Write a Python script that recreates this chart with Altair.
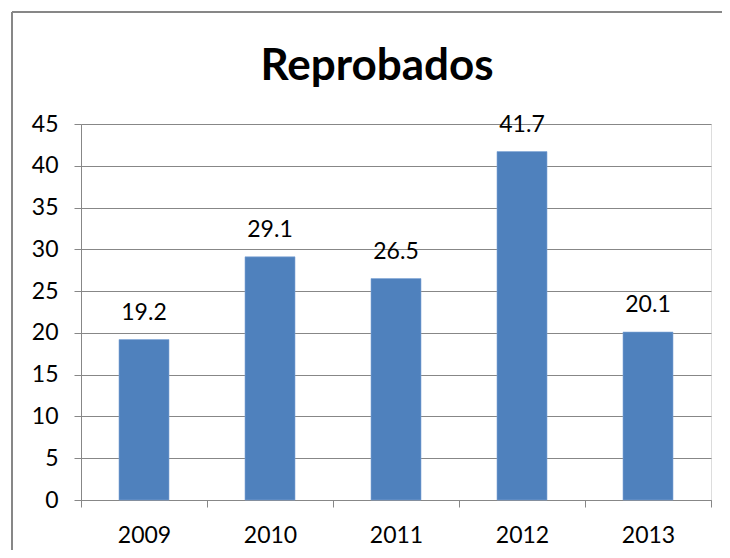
import altair as alt
import pandas as pd

years = ["2009", "2010", "2011", "2012", "2013"]
values = [19.2, 29.1, 26.5, 41.7, 20.1]
label_texts = ["19.2", "29.1", "26.5", "41.7", "20.1"]

df = pd.DataFrame({"year": years, "value": values, "label": label_texts})

FONT = "Lato"
GRAY = "#878787"

x_enc = alt.X(
    "year:N",
    sort=years,
    title=None,
    scale=alt.Scale(paddingInner=0, paddingOuter=0),
    axis=alt.Axis(
        tickBand="extent",
        labelAngle=0,
        labelFontSize=23,
        labelFont=FONT,
        labelColor="#000000",
        labelPadding=17,
        tickSize=7,
        tickColor=GRAY,
        domainColor=GRAY,
        grid=False,
    ),
)
y_enc = alt.Y(
    "value:Q",
    title=None,
    scale=alt.Scale(domain=[0, 45], nice=False),
    axis=alt.Axis(
        values=[0, 5, 10, 15, 20, 25, 30, 35, 40, 45],
        labelFontSize=23,
        labelFont=FONT,
        labelColor="#000000",
        labelPadding=16,
        tickSize=7,
        tickColor=GRAY,
        domainColor=GRAY,
        gridColor=GRAY,
        gridOpacity=1,
        gridWidth=1.2,
    ),
)

bars = alt.Chart(df).mark_bar(size=50, color="#4F81BD", stroke="#7FA6D6", strokeWidth=0.6).encode(
    x=x_enc, y=y_enc
)

texts = alt.Chart(df).mark_text(
    font=FONT, fontSize=23, color="#000000", baseline="alphabetic", dy=-20
).encode(x=alt.X("year:N", sort=years), y="value:Q", text="label:N")

border = alt.Chart(df).mark_rule(color=GRAY, strokeWidth=1.5).encode(
    x=alt.value(-69), x2=alt.value(900), y=alt.value(-112)
)
border_left = alt.Chart(df).mark_rule(color=GRAY, strokeWidth=1.5).encode(
    x=alt.value(-69), y=alt.value(-112), y2=alt.value(600)
)

chart = alt.layer(bars, texts, border, border_left).properties(
    width=630,
    height=376,
    title=alt.TitleParams(
        "Reprobados",
        font=FONT,
        fontSize=44,
        fontWeight="bold",
        color="#000000",
        anchor="middle",
        dx=-19,
        offset=-78,
    ),
    autosize=alt.AutoSizeParams(type="none"),
    padding={"left": 73, "top": 116, "right": 11, "bottom": 50},
).configure_view(stroke=None).configure(background="white")

chart.save("out.html", embed_options={"renderer": "svg", "actions": False})
